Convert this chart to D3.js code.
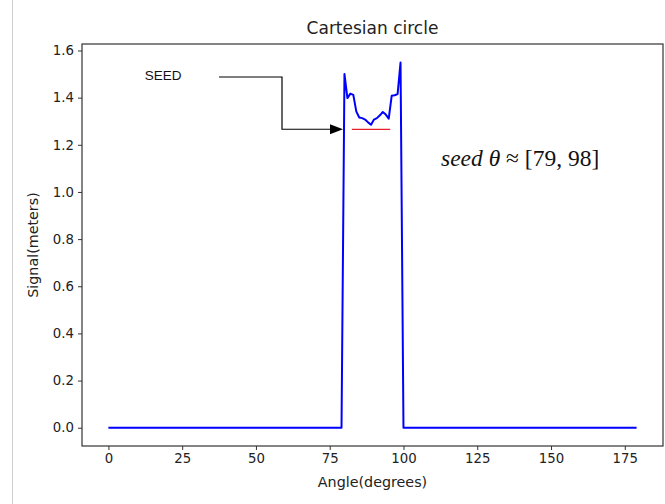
<!DOCTYPE html>
<html><head><meta charset="utf-8">
<script src="https://cdn.jsdelivr.net/npm/d3@7"></script>
<style>body{margin:0;background:#fff}svg{display:block}</style>
</head><body>
<script>
// Data
const angles = d3.range(0, 180);
const peakAngles = [80,81,82,83,84,85,86,87,88,89,90,91,92,93,94,95,96,97,98,99];
const peakValues = [1.500,1.398,1.417,1.412,1.342,1.316,1.313,1.307,1.295,1.285,1.307,1.313,1.325,1.339,1.328,1.311,1.408,1.410,1.415,1.549];
const signal = angles.map(a => { const i = peakAngles.indexOf(a); return i >= 0 ? peakValues[i] : 0; });
const xTicks = [0,25,50,75,100,125,150,175];
const yTicks = [0,0.2,0.4,0.6,0.8,1.0,1.2,1.4,1.6];
const seedLine = {x1: 82.5, x2: 95.5, y: 1.265};
const arrowTip = {x: 79.5, y: 1.266};
const seedLabel = {x: 12.3, y: 1.494, text: "SEED"};

const W = 665, H = 504;
const m = {l: 82, r: 663, t: 44, b: 446};
const svg = d3.select("body").append("svg").attr("width", W).attr("height", H);

// notebook border line
svg.append("line").attr("x1", 12.5).attr("x2", 12.5).attr("y1", 0).attr("y2", H)
  .attr("stroke", "#d0d0d0").attr("stroke-width", 1);

const x = d3.scaleLinear().domain([-8.95, 187.95]).range([m.l, m.r]);
const y = d3.scaleLinear().domain([-0.0775, 1.6275]).range([m.b, m.t]);

const font = "DejaVu Sans";
const xAxis = svg.append("g").attr("transform", `translate(0,${m.b})`)
  .call(d3.axisBottom(x).tickValues(xTicks).tickSize(4).tickPadding(4).tickFormat(d3.format("d")));
const yAxis = svg.append("g").attr("transform", `translate(${m.l},0)`)
  .call(d3.axisLeft(y).tickValues(yTicks).tickSize(4).tickPadding(4).tickFormat(d3.format(".1f")));
[xAxis, yAxis].forEach(g => {
  g.select(".domain").remove();
  g.selectAll(".tick line").attr("stroke", "#333").attr("stroke-width", 1);
  g.selectAll(".tick text").attr("fill", "#222").style("font-family", font).style("font-size", "13.3px");
});

// frame
svg.append("rect").attr("x", m.l).attr("y", m.t).attr("width", m.r - m.l).attr("height", m.b - m.t)
  .attr("fill", "none").attr("stroke", "#333").attr("stroke-width", 1.2);

// data line
svg.append("path").datum(angles.map((a, i) => [a, signal[i]]))
  .attr("d", d3.line().x(d => x(d[0])).y(d => y(d[1])))
  .attr("fill", "none").attr("stroke", "#0000ff").attr("stroke-width", 2).attr("stroke-linejoin", "round");

// red seed line
svg.append("line").attr("x1", x(seedLine.x1)).attr("x2", x(seedLine.x2))
  .attr("y1", y(seedLine.y)).attr("y2", y(seedLine.y)).attr("stroke", "#e8202a").attr("stroke-width", 1.3);

// annotation
svg.append("text").attr("x", x(seedLabel.x)).attr("y", y(seedLabel.y) + 4.5)
  .style("font-family", "Liberation Sans, Arial").style("font-size", "13.5px").attr("fill", "#111").text(seedLabel.text);
const sx = 219, sy = y(seedLabel.y) + 1.5, mx = 282;
const tipX = x(arrowTip.x), tipY = y(arrowTip.y);
svg.append("path").attr("d", `M${sx},${sy}H${mx}V${tipY}H${tipX - 11}`)
  .attr("fill", "none").attr("stroke", "#000").attr("stroke-width", 1.2);
svg.append("path").attr("d", `M${tipX},${tipY}L${tipX - 13},${tipY - 5}L${tipX - 13},${tipY + 5}Z`).attr("fill", "#000");

// math text
const mt = svg.append("text").attr("x", 441).attr("y", 166)
  .style("font-family", "Liberation Serif, Times New Roman").style("font-size", "23.5px").attr("fill", "#111");
mt.append("tspan").style("font-style", "italic").text("seed θ");
mt.append("tspan").text(" ≈ [79, 98]");

// title and labels
svg.append("text").attr("x", (m.l + m.r) / 2).attr("y", 34).attr("text-anchor", "middle")
  .style("font-family", font).style("font-size", "17px").attr("fill", "#222").text("Cartesian circle");
svg.append("text").attr("x", (m.l + m.r) / 2).attr("y", 487).attr("text-anchor", "middle")
  .style("font-family", font).style("font-size", "14.3px").attr("fill", "#222").text("Angle(degrees)");
svg.append("text").attr("transform", `translate(38,${(m.t + m.b) / 2}) rotate(-90)`).attr("text-anchor", "middle")
  .style("font-family", font).style("font-size", "14.3px").attr("fill", "#222").text("Signal(meters)");
</script>
</body></html>
